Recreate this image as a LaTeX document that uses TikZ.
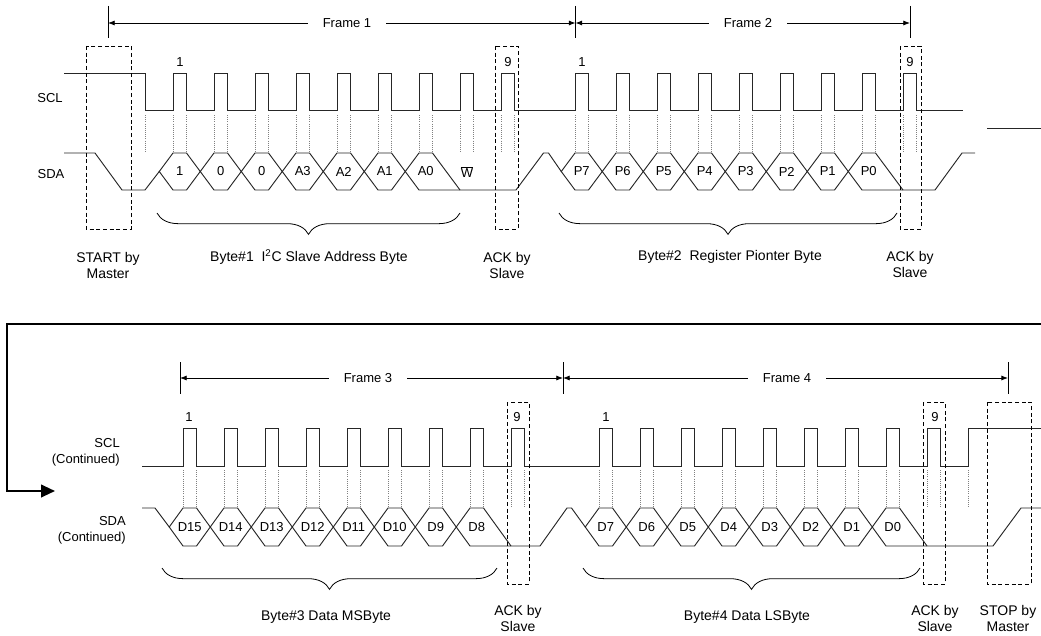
\documentclass[tikz,border=0pt]{standalone}
\usepackage{fontspec}
\setmainfont{Liberation Sans}
\usepackage{tikz}
\usetikzlibrary{arrows.meta,decorations.pathreplacing}

% one data bit on SDA: rise x, high y, low y, label
\newcommand{\hexbit}[4]{%
  \draw[wave] ({#1-13.75},{(#2+#3)/2}) -- ({#1},#2) -- ({#1+13.5},#2) -- ({#1+27.25},{(#2+#3)/2}) -- ({#1+13.5},#3) -- ({#1},#3) -- cycle;
  \node at ({#1+6.75},{(#2+#3)/2}) {#4};}

\begin{document}
\begin{tikzpicture}[x=0.75pt,y=-0.75pt,
    every node/.style={font=\fontsize{9.75}{12}\selectfont,inner sep=0pt},
    capt/.style={font=\fontsize{10.5}{12}\selectfont,align=center},
    wave/.style={line width=0.7pt,black!85},
    guide/.style={gray,densely dotted,line width=0.6pt},
    box/.style={densely dashed,line width=0.5pt},
    tick/.style={line width=0.6pt},
    arr/.style={-{Latex[length=5pt,width=3.8pt]},line width=0.6pt},
    frm/.style={inner xsep=11pt},
    brc/.style={decorate,decoration={brace,mirror,amplitude=16pt},line width=0.6pt}]
  \useasboundingbox (0,0) rectangle (1041,635);

  % frame markers
  \foreach \x/\n in {108/t1,575.5/t2,910/t3} {
    \coordinate (\n) at (\x,23);
    \draw[tick] (\x,6) -- (\x,38);
  }
  \foreach \x/\n in {180/t4,563/t5,1008/t6} {
    \coordinate (\n) at (\x,378);
    \draw[tick] (\x,362) -- (\x,394);
  }
  \node[frm] (f1) at (347,23) {Frame 1};
  \node[frm] (f2) at (748,23) {Frame 2};
  \node[frm] (f3) at (368,378) {Frame 3};
  \node[frm] (f4) at (787,378) {Frame 4};
  \draw[arr] (f1) -- (t1);
  \draw[arr] (f1) -- (t2);
  \draw[arr] (f2) -- (t2);
  \draw[arr] (f2) -- (t3);
  \draw[arr] (f3) -- (t4);
  \draw[arr] (f3) -- (t5);
  \draw[arr] (f4) -- (t5);
  \draw[arr] (f4) -- (t6);

  % signal names
  \node (scl) at (50,98) {SCL};
  \node (sda) at (51,174) {SDA};
  \node[anchor=east,align=right] (sclc) at (120,452) {SCL\\(Continued)};
  \node[anchor=east,align=right] (sdac) at (126,530) {SDA\\(Continued)};

  % SCL
  \draw[wave] (64,73) -- (145,73) -- (145,110)
    \foreach \p in {173,214,...,501} { -- (\p,110) -- (\p,73) -- ({\p+13.5},73) -- ({\p+13.5},110) }
    \foreach \p in {575,616,...,903} { -- (\p,110) -- (\p,73) -- ({\p+13.5},73) -- ({\p+13.5},110) }
    -- (963,110);
  \draw[wave] (987,128) -- (1041,128);
  \draw[wave] (142,466)
    \foreach \p in {183,224,...,511} { -- (\p,466) -- (\p,428) -- ({\p+13.5},428) -- ({\p+13.5},466) }
    \foreach \p in {599,640,...,927} { -- (\p,466) -- (\p,428) -- ({\p+13.5},428) -- ({\p+13.5},466) }
    -- (968,466) -- (968,428) -- (1041,428);

  % clock edges
  \foreach \s/\a/\b in {173/115/153,575/115/153,183/470/508,599/470/508}
    \foreach \i in {0,...,8} {
      \draw[guide] ({\s+41*\i},\a) -- ({\s+41*\i},\b);
      \draw[guide] ({\s+41*\i+13.5},\a) -- ({\s+41*\i+13.5},\b);
    }
  \draw[guide] (145,115) -- (145,153);
  \draw[guide] (968,470) -- (968,508);

  % SDA, frames 1 and 2
  \draw[wave] (64,153) -- (95,153) -- (122,190) -- (145,190) -- (159.25,171.5);
  \foreach \b [count=\i from 0] in {1,0,0,A3,A2,A1} {
    \hexbit{173+41*\i}{153}{190}{\b}
  }
  \draw[wave] (405.25,171.5) -- (419,153) -- (432.5,153) -- (460,190);
  \draw[wave] (405.25,171.5) -- (419,190) -- (516,190) -- (543.5,153) -- (548.5,153) -- (561.25,171.5);
  \node (a0) at (425.75,171.5) {A0};
  \node (w) at (467,172) {$\overline{\hbox{W}}$};
  \foreach \b [count=\i from 0] in {P7,P6,P5,P4,P3,P2,P1} {
    \hexbit{575+41*\i}{153}{190}{\b}
  }
  \draw[wave] (848.25,171.5) -- (862,153) -- (875.5,153) -- (903,190);
  \draw[wave] (848.25,171.5) -- (862,190) -- (935,190) -- (962,153) -- (975,153);
  \node (p0) at (868.75,171.5) {P0};

  % SDA, frames 3 and 4
  \draw[wave] (142,508) -- (155,508) -- (169.25,527);
  \foreach \b [count=\i from 0] in {D15,D14,D13,D12,D11,D10,D9} {
    \hexbit{183+41*\i}{508}{546}{\b}
  }
  \draw[wave] (456.25,527) -- (470,508) -- (483.5,508) -- (511,546);
  \draw[wave] (456.25,527) -- (470,546) -- (540,546) -- (567,508) -- (571.5,508) -- (585.25,527);
  \node (d8) at (476.75,527) {D8};
  \foreach \b [count=\i from 0] in {D7,D6,D5,D4,D3,D2,D1} {
    \hexbit{599+41*\i}{508}{546}{\b}
  }
  \draw[wave] (872.25,527) -- (886,508) -- (899.5,508) -- (927,546);
  \draw[wave] (872.25,527) -- (886,546) -- (993,546) -- (1021,508) -- (1041,508);
  \node (d0) at (892.75,527) {D0};

  % clock numbers
  \node (n1) at (180,62) {1};
  \node (n9) at (508,62) {9};
  \node (n1b) at (582,62) {1};
  \node (n9b) at (910,62) {9};
  \node (n1c) at (189,417) {1};
  \node (n9c) at (517,417) {9};
  \node (n1d) at (606,417) {1};
  \node (n9d) at (935,417) {9};

  % start, ack and stop windows
  \draw[box] (86,46) rectangle (131,229);
  \draw[box] (495,46) rectangle (518,229);
  \draw[box] (900,46) rectangle (921,229);
  \draw[box] (507,402) rectangle (529,584);
  \draw[box] (923,402) rectangle (945,584);
  \draw[box] (987,402) rectangle (1031,584);

  % bytes
  \draw[brc] (157,213) -- (460,213);
  \draw[brc] (559,213) -- (897,213);
  \draw[brc] (162,568) -- (497,568);
  \draw[brc] (583,568) -- (920,568);

  % captions
  \node[capt] (start) at (108,265) {START by\\Master};
  \node[capt] (byte1) at (309,257) {Byte\#1\ \ I\textsuperscript{2}C Slave Address Byte};
  \node[capt] (ack1) at (507,265) {ACK by\\Slave};
  \node[capt] (byte2) at (730,257) {Byte\#2\ \ Register Pionter Byte};
  \node[capt] (ack2) at (910,264) {ACK by\\Slave};
  \node[capt] (byte3) at (326,617) {Byte\#3 Data MSByte};
  \node[capt] (ack3) at (518,618) {ACK by\\Slave};
  \node[capt] (byte4) at (747,617) {Byte\#4 Data LSByte};
  \node[capt] (ack4) at (935,618) {ACK by\\Slave};
  \node[capt] (stop) at (1008,618) {STOP by\\Master};

  % continuation
  \draw[line width=1.5pt,-{Triangle[length=10.5pt,width=9.5pt]}] (1041,324) -- (7,324) -- (7,491) -- (55,491);
\end{tikzpicture}
\end{document}
